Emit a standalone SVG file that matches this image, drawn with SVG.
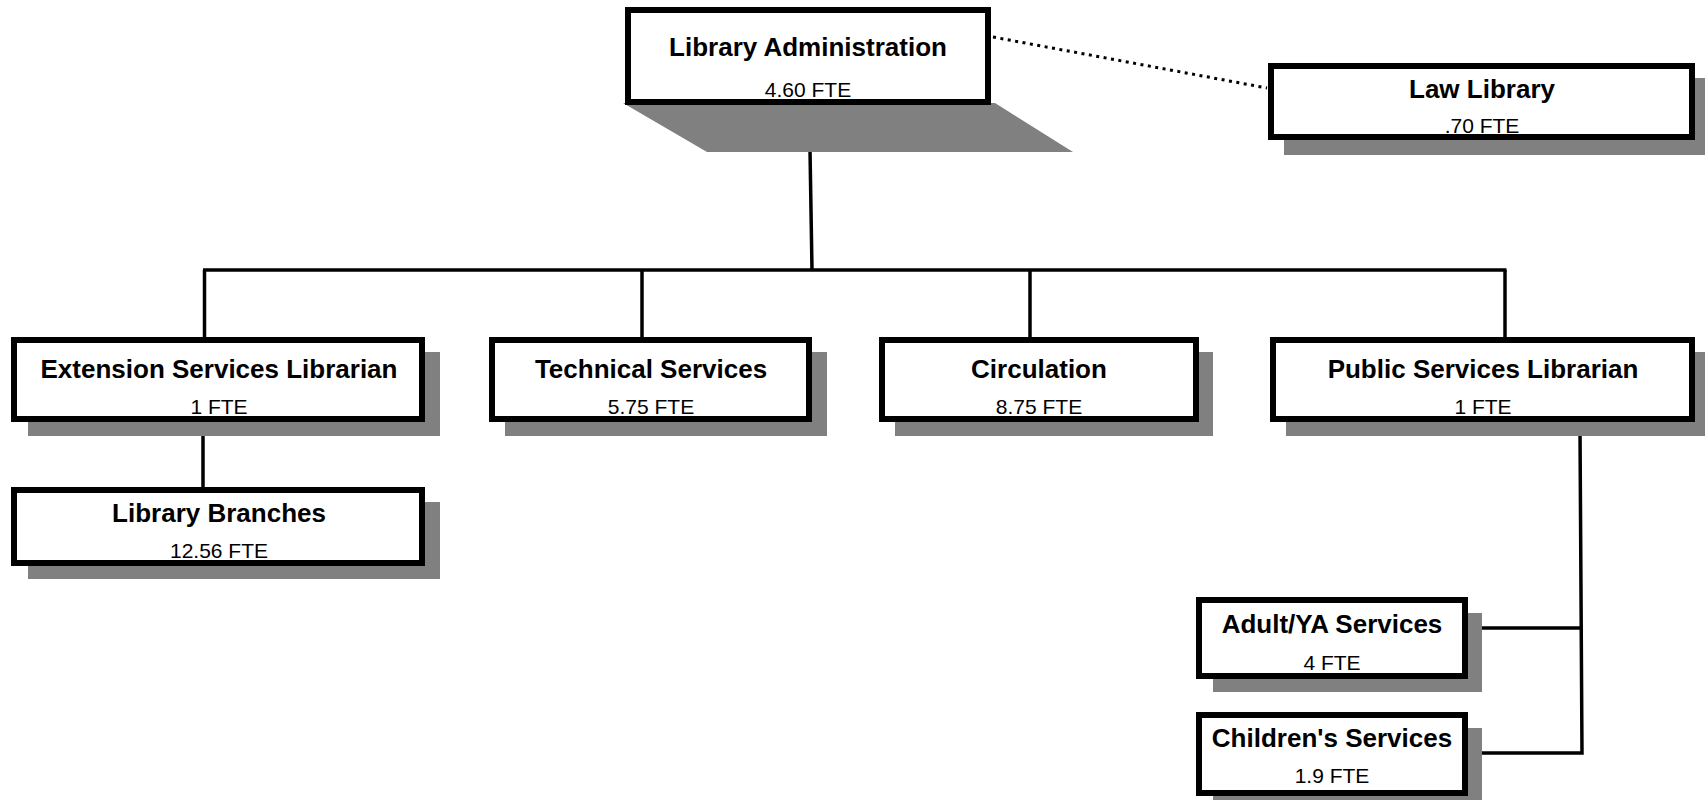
<svg xmlns="http://www.w3.org/2000/svg" width="1705" height="800" viewBox="0 0 1705 800">
<style>
.box{fill:#fff;stroke:#000;stroke-width:6}
.sh{fill:#808080;stroke:none}
.t{font-family:"Liberation Sans",Arial,sans-serif;font-weight:bold;font-size:26px;fill:#000;text-anchor:middle}
.s{font-family:"Liberation Sans",Arial,sans-serif;font-size:21px;fill:#000;text-anchor:middle}
.c{fill:none;stroke:#000;stroke-width:3.5}
.d{fill:none;stroke:#000;stroke-width:3;stroke-dasharray:3 4.5}
</style>
<rect width="1705" height="800" fill="#fff"/>
<g id="connectors">
<line class="d" x1="993" y1="37" x2="1267" y2="88"/>
<line class="c" x1="810" y1="150" x2="812" y2="270"/>
<line class="c" x1="203" y1="270" x2="1506.5" y2="270"/>
<line class="c" x1="204.5" y1="270" x2="204.5" y2="338"/>
<line class="c" x1="642" y1="270" x2="642" y2="338"/>
<line class="c" x1="1030" y1="270" x2="1030" y2="338"/>
<line class="c" x1="1505" y1="270" x2="1505" y2="338"/>
<line class="c" x1="203" y1="422" x2="203" y2="488"/>
<polyline class="c" points="1580,430 1582,753 1480,753"/>
<line class="c" x1="1480" y1="628" x2="1581" y2="628"/>
</g>
<g id="admin">
<polygon class="sh" points="623,103 995,103 1073,152 707,152"/>
<rect class="box" x="628" y="10" width="360" height="92"/>
<text class="t" x="808" y="56">Library Administration</text>
<text class="s" x="808" y="97">4.60 FTE</text>
</g>
<g id="law">
<rect class="sh" x="1284" y="78" width="421" height="77"/>
<rect class="box" x="1271" y="66" width="421" height="71"/>
<text class="t" x="1482" y="98">Law Library</text>
<text class="s" x="1482" y="133">.70 FTE</text>
</g>
<g id="extension">
<rect class="sh" x="28" y="352" width="412" height="84"/>
<rect class="box" x="14" y="340" width="408" height="79"/>
<text class="t" x="219" y="378">Extension Services Librarian</text>
<text class="s" x="219" y="414">1 FTE</text>
</g>
<g id="technical">
<rect class="sh" x="505" y="352" width="322" height="84"/>
<rect class="box" x="492" y="340" width="317" height="79"/>
<text class="t" x="651" y="378">Technical Services</text>
<text class="s" x="651" y="414">5.75 FTE</text>
</g>
<g id="circulation">
<rect class="sh" x="895" y="352" width="318" height="84"/>
<rect class="box" x="882" y="340" width="314" height="79"/>
<text class="t" x="1039" y="378">Circulation</text>
<text class="s" x="1039" y="414">8.75 FTE</text>
</g>
<g id="public">
<rect class="sh" x="1286" y="352" width="419" height="84"/>
<rect class="box" x="1273" y="340" width="419" height="79"/>
<text class="t" x="1483" y="378">Public Services Librarian</text>
<text class="s" x="1483" y="414">1 FTE</text>
</g>
<g id="branches">
<rect class="sh" x="28" y="502" width="412" height="77"/>
<rect class="box" x="14" y="490" width="408" height="73"/>
<text class="t" x="219" y="522">Library Branches</text>
<text class="s" x="219" y="558">12.56 FTE</text>
</g>
<g id="adult">
<rect class="sh" x="1213" y="613" width="269" height="79"/>
<rect class="box" x="1199" y="600" width="266" height="76"/>
<text class="t" x="1332" y="633">Adult/YA Services</text>
<text class="s" x="1332" y="670">4 FTE</text>
</g>
<g id="children">
<rect class="sh" x="1213" y="728" width="269" height="72"/>
<rect class="box" x="1199" y="715" width="266" height="78"/>
<text class="t" x="1332" y="747">Children's Services</text>
<text class="s" x="1332" y="783">1.9 FTE</text>
</g>
</svg>
